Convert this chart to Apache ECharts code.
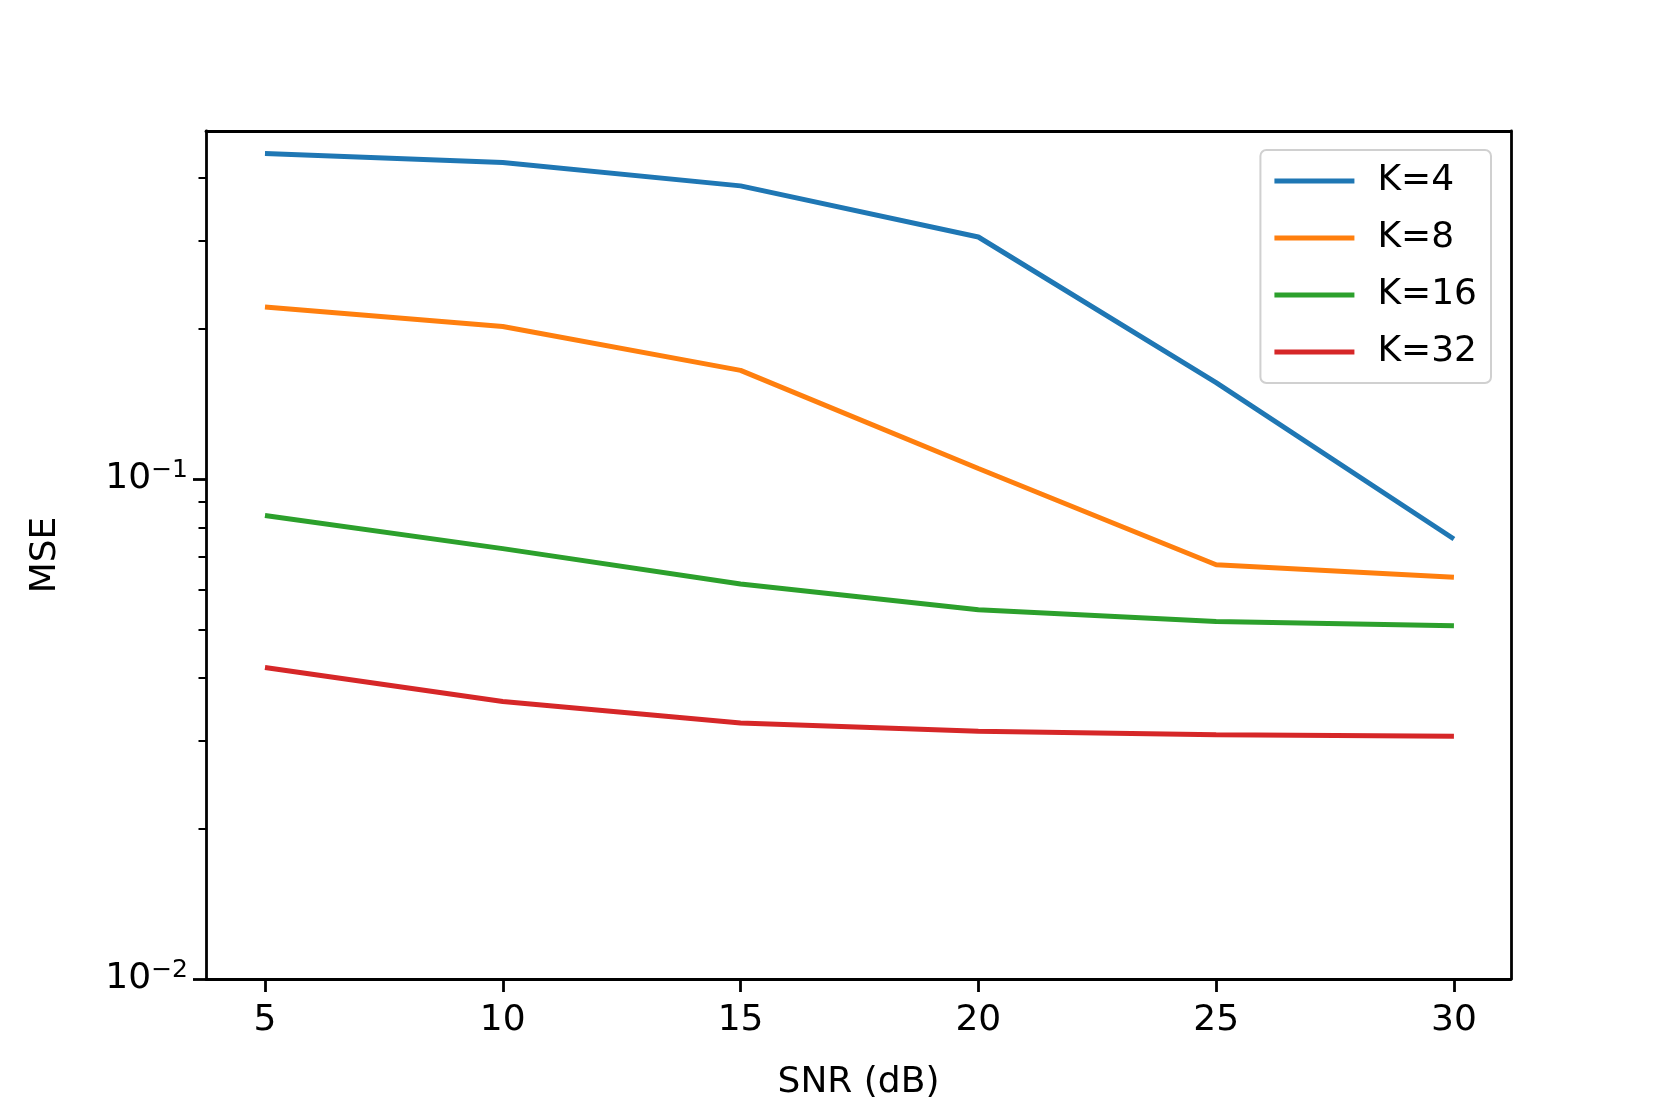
<!DOCTYPE html>
<html><head><meta charset="utf-8">
<script src="https://cdn.jsdelivr.net/npm/echarts@6/dist/echarts.min.js"></script>
<style>html,body{margin:0;padding:0;background:#fff}#c{width:1678px;height:1116px}</style>
</head><body><div id="c"></div>
<script>
const snr = [5, 10, 15, 20, 25, 30];
const seriesNames = ['K=4', 'K=8', 'K=16', 'K=32'];
const k4 = [0.448, 0.430, 0.386, 0.305, 0.156, 0.0759];
const k8 = [0.221, 0.202, 0.165, 0.105, 0.0674, 0.0636];
const k16 = [0.0846, 0.0726, 0.0617, 0.0548, 0.0519, 0.0509];
const k32 = [0.0420, 0.0359, 0.0325, 0.0313, 0.0308, 0.0306];
const xTicks = [5, 10, 15, 20, 25, 30];
const yMajor = [0.01, 0.1];
const yMinor = [0.02,0.03,0.04,0.05,0.06,0.07,0.08,0.09,0.2,0.3,0.4];
const colors = ['#1f77b4', '#ff7f0e', '#2ca02c', '#d62728'];
const values = [k4, k8, k16, k32];

const font = 'DejaVu Sans';
const chart = echarts.init(document.getElementById('c'));
const grid = {left: 206, right: 167, top: 131, bottom: 137};
const yBase = {type: 'log', logBase: 10, min: 0.01, max: 0.497, splitLine: {show: false}};
chart.setOption({
  animation: false,
  color: colors,
  grid: grid,
  legend: {
    right: 187, top: 150, orient: 'vertical',
    icon: 'path://M0,0 L80,0 L80,5 L0,5 Z',
    itemWidth: 80, itemHeight: 5, itemGap: 19,
    padding: [12, 14, 12, 14],
    borderColor: '#d0d0d0', borderWidth: 2, borderRadius: 6,
    backgroundColor: 'rgba(255,255,255,0.8)',
    textStyle: {fontFamily: font, fontSize: 36, lineHeight: 38, color: '#000', padding: [0,0,0,18]},
    data: seriesNames
  },
  xAxis: [{
    type: 'value', min: 3.76, max: 31.2,
    name: 'SNR (dB)', nameLocation: 'middle', nameGap: 86,
    nameTextStyle: {fontFamily: font, fontSize: 36, color: '#000'},
    splitLine: {show: false},
    axisLine: {onZero: false, lineStyle: {color: '#000', width: 2.8}},
    axisTick: {length: 13, lineStyle: {color: '#000', width: 2.8}, customValues: xTicks},
    axisLabel: {fontFamily: font, fontSize: 36, color: '#000', margin: 24, customValues: xTicks}
  }, {
    type: 'value', min: 3.76, max: 31.2, position: 'top',
    splitLine: {show: false},
    axisLine: {show: true, onZero: false, lineStyle: {color: '#000', width: 2.8}},
    axisTick: {show: false}, axisLabel: {show: false}
  }],
  yAxis: [
    Object.assign({}, yBase, {
      name: 'MSE', nameLocation: 'middle', nameGap: 142,
      nameTextStyle: {fontFamily: font, fontSize: 36, color: '#000'},
      axisLine: {show: true, lineStyle: {color: '#000', width: 2.8}},
      axisTick: {show: true, length: 13, lineStyle: {color: '#000', width: 2.8}, customValues: yMajor},
      axisLabel: {
        customValues: yMajor, margin: 18,
        formatter: v => v < 0.05 ? '10{s|−2}' : '10{s|−1}',
        fontFamily: font, fontSize: 36, color: '#000',
        rich: {s: {fontFamily: font, fontSize: 25, color: '#000', verticalAlign: 'top', padding: [0,0,18,0]}}
      }
    }),
    Object.assign({}, yBase, {
      position: 'left',
      axisLine: {show: false},
      axisTick: {show: true, length: 7.5, lineStyle: {color: '#000', width: 2}, customValues: yMinor},
      axisLabel: {show: false}
    }),
    Object.assign({}, yBase, {
      position: 'right',
      axisLine: {show: true, lineStyle: {color: '#000', width: 2.8}},
      axisTick: {show: false}, axisLabel: {show: false}
    })
  ],
  series: seriesNames.map((n, i) => ({
    name: n, type: 'line', symbol: 'none',
    lineStyle: {width: 5, color: colors[i]},
    itemStyle: {color: colors[i]},
    data: snr.map((x, j) => [x, values[i][j]])
  }))
});
</script></body></html>
